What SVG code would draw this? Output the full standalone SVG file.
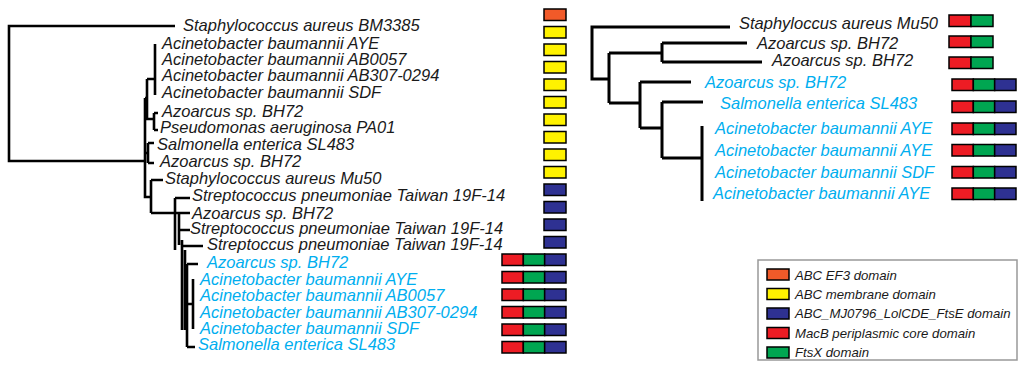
<svg xmlns="http://www.w3.org/2000/svg" width="1024" height="369" viewBox="0 0 1024 369">
<style>
text{font-family:"Liberation Sans",Arial,sans-serif;font-style:italic;font-size:16.5px;fill:#1a1a1a}
.c{fill:#00AEEF}
.lg{font-size:13.2px}
.tree{fill:none;stroke:#000;stroke-width:2.6}
.tree2{fill:none;stroke:#000;stroke-width:3}
.b{stroke:#000;stroke-width:1.5}
.o{fill:#F15A29}.y{fill:#FFF200}.n{fill:#2E3192}.r{fill:#ED1C24}.g{fill:#00A651}
</style>
<rect width="1024" height="369" fill="#fff"/>
<defs>
<g id="trip"><rect class="b r" x="0" y="0" width="21.33" height="11.5"/><rect class="b g" x="21.33" y="0" width="21.33" height="11.5"/><rect class="b n" x="42.67" y="0" width="21.33" height="11.5"/></g>
<g id="duo"><rect class="b r" x="0" y="0" width="22" height="11.5"/><rect class="b g" x="22" y="0" width="22" height="11.5"/></g>
</defs>
<g id="connectors">
<path class="tree" d="M175,26H9V161H145 M155,44V95 M147,79H155 M147,79V119H154 M154,113V130 M154,113H158 M154,130H158 M145,98H147 M148,143V163 M148,143H154 M148,163H154 M145,153H148 M145,98V197H151 M151,180V213 M151,180H163 M151,213H190 M175,198V250 M175,198H190 M179,213V245 M179,230H190 M182,240V330 M182,246H203 M185,250V330 M187,264V347 M187,264H198 M187,347H195 M193,279V329 M187,304H193"/>
<path class="tree2" d="M730,27H592V79H609 M609,53V103 M609,53H662 M662,43V62 M662,43H747 M662,62H762 M609,103H640 M640,82V128 M640,82H691 M640,128H662 M662,102V158 M662,102H703 M662,158H702 M702,126V201"/>
</g>
<g id="left-1"><text x="183" y="30.5">Staphylococcus aureus BM3385</text><rect class="b o" x="544" y="9" width="22" height="11.5"/></g>
<g id="left-2"><text x="162" y="49">Acinetobacter baumannii AYE</text><rect class="b y" x="544" y="26.5" width="22" height="11.5"/></g>
<g id="left-3"><text x="162" y="64.5">Acinetobacter baumannii AB0057</text><rect class="b y" x="544" y="44" width="22" height="11.5"/></g>
<g id="left-4"><text x="162" y="80.5">Acinetobacter baumannii AB307-0294</text><rect class="b y" x="544" y="61.5" width="22" height="11.5"/></g>
<g id="left-5"><text x="162" y="98">Acinetobacter baumannii SDF</text><rect class="b y" x="544" y="79" width="22" height="11.5"/></g>
<g id="left-6"><text x="162" y="117">Azoarcus sp. BH72</text><rect class="b y" x="544" y="96.5" width="22" height="11.5"/></g>
<g id="left-7"><text x="160" y="132.5">Pseudomonas aeruginosa PA01</text><rect class="b y" x="544" y="114" width="22" height="11.5"/></g>
<g id="left-8"><text x="157" y="150">Salmonella enterica SL483</text><rect class="b y" x="544" y="131.5" width="22" height="11.5"/></g>
<g id="left-9"><text x="160" y="167">Azoarcus sp. BH72</text><rect class="b y" x="544" y="149" width="22" height="11.5"/></g>
<g id="left-10"><text x="165" y="183.5">Staphylococcus aureus Mu50</text><rect class="b y" x="544" y="166.5" width="22" height="11.5"/></g>
<g id="left-11"><text x="192" y="200.5">Streptococcus pneumoniae Taiwan 19F-14</text><rect class="b n" x="544" y="184" width="22" height="11.5"/></g>
<g id="left-12"><text x="192" y="218.5">Azoarcus sp. BH72</text><rect class="b n" x="544" y="201.5" width="22" height="11.5"/></g>
<g id="left-13"><text x="190" y="233.5">Streptococcus pneumoniae Taiwan 19F-14</text><rect class="b n" x="544" y="219" width="22" height="11.5"/></g>
<g id="left-14"><text x="207" y="249.5">Streptoccus pneumoniae Taiwan 19F-14</text><rect class="b n" x="544" y="236.5" width="22" height="11.5"/></g>
<g id="left-15"><text class="c" x="207" y="267.5">Azoarcus sp. BH72</text><use href="#trip" x="502" y="254"/></g>
<g id="left-16"><text class="c" x="200" y="284.5">Acinetobacter baumannii AYE</text><use href="#trip" x="502" y="271.5"/></g>
<g id="left-17"><text class="c" x="200" y="300.5">Acinetobacter baumannii AB0057</text><use href="#trip" x="502" y="289"/></g>
<g id="left-18"><text class="c" x="200" y="317.5">Acinetobacter baumannii AB307-0294</text><use href="#trip" x="502" y="306.5"/></g>
<g id="left-19"><text class="c" x="200" y="333.5">Acinetobacter baumannii SDF</text><use href="#trip" x="502" y="324"/></g>
<g id="left-20"><text class="c" x="198" y="349.5">Salmonella enterica SL483</text><use href="#trip" x="502" y="341.5"/></g>
<g id="right-1"><text x="739" y="28.5">Staphyloccus aureus Mu50</text><use href="#duo" x="949" y="15"/></g>
<g id="right-2"><text x="757" y="48.5">Azoarcus sp. BH72</text><use href="#duo" x="949" y="36"/></g>
<g id="right-3"><text x="772" y="65.5">Azoarcus sp. BH72</text><use href="#duo" x="949" y="57"/></g>
<g id="right-4"><text class="c" x="705" y="87.5">Azoarcus sp. BH72</text><use href="#trip" x="952" y="79"/></g>
<g id="right-5"><text class="c" x="720" y="108.5">Salmonella enterica SL483</text><use href="#trip" x="952" y="101"/></g>
<g id="right-6"><text class="c" x="715" y="133.5">Acinetobacter baumannii AYE</text><use href="#trip" x="952" y="123"/></g>
<g id="right-7"><text class="c" x="715" y="155.5">Acinetobacter baumannii AYE</text><use href="#trip" x="952" y="144.5"/></g>
<g id="right-8"><text class="c" x="715" y="177.5">Acinetobacter baumannii SDF</text><use href="#trip" x="952" y="166.5"/></g>
<g id="right-9"><text class="c" x="713" y="198.5">Acinetobacter baumannii AYE</text><use href="#trip" x="952" y="188"/></g>
<g id="legend">
<rect x="758" y="260" width="259" height="100" fill="#fff" stroke="#999" stroke-width="1.5"/>
<rect class="b o" x="767" y="269" width="22" height="11"/><text class="lg" x="795" y="279.5">ABC EF3 domain</text>
<rect class="b y" x="767" y="288.5" width="22" height="11"/><text class="lg" x="795" y="298.5">ABC membrane domain</text>
<rect class="b n" x="767" y="308" width="22" height="11"/><text class="lg" x="795" y="318">ABC_MJ0796_LolCDE_FtsE domain</text>
<rect class="b r" x="767" y="327.5" width="22" height="11"/><text class="lg" x="795" y="337.5">MacB periplasmic core domain</text>
<rect class="b g" x="767" y="347" width="22" height="11"/><text class="lg" x="795" y="357">FtsX domain</text>
</g>
</svg>
